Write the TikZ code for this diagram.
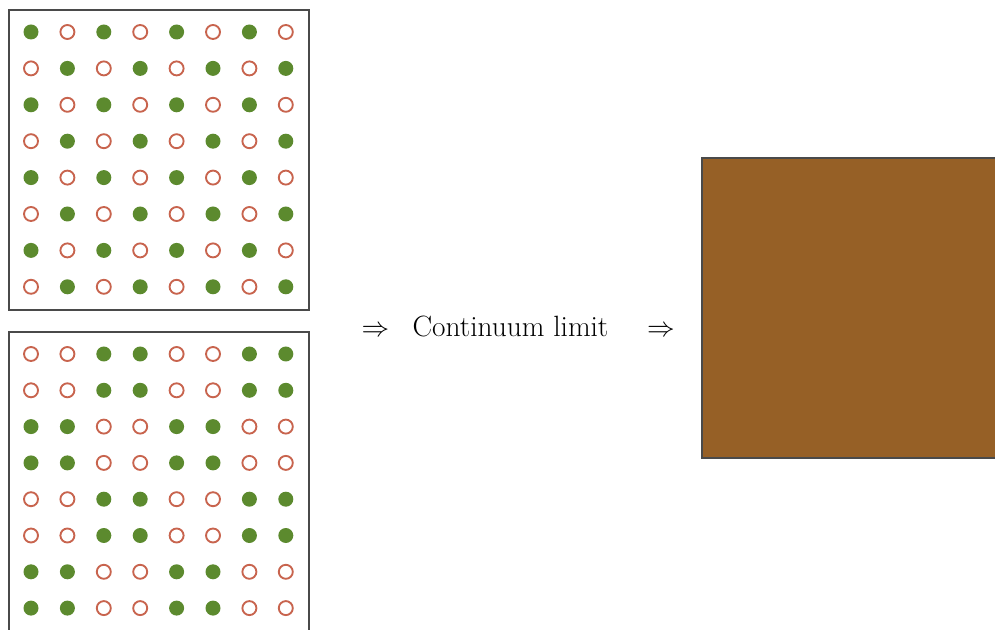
\documentclass[tikz,border=0pt]{standalone}
\definecolor{dotgreen}{HTML}{5C8A2E}
\definecolor{dotred}{HTML}{C8644E}
\definecolor{brown}{HTML}{966026}
\definecolor{frame}{HTML}{4A4A4A}
\begin{document}
\begin{tikzpicture}[x=0.75pt,y=-0.75pt,
  full/.style={fill=dotgreen,draw=none},
  empty/.style={draw=dotred,line width=1.4pt,fill=white},
  panel/.style={draw=frame,line width=1.2pt},
  lbl/.style={font=\fontsize{22}{26}\selectfont,inner sep=0pt},
  arr/.style={font=\fontsize{20.5}{24}\selectfont,inner sep=0pt}]
\useasboundingbox (0,0) rectangle (995,630);
\clip (0,0) rectangle (995,630);
% top panel: checkerboard
\draw[panel,fill=white] (9,10) rectangle (309,310);
\foreach \i in {0,...,7}{
  \foreach \j in {0,...,7}{
    \pgfmathtruncatemacro{\p}{mod(\i+\j,2)}
    \ifnum\p=0
      \fill[full] (31+36.4*\i,32+36.4*\j) circle (7.5);
    \else
      \draw[empty] (31+36.4*\i,32+36.4*\j) circle (7);
    \fi
  }
}
% bottom panel: 2x2 blocks
\draw[panel,fill=white] (9,332) rectangle (309,640);
\foreach \i in {0,...,7}{
  \foreach \j in {0,...,7}{
    \pgfmathtruncatemacro{\p}{mod(int(\i/2)+int(\j/2),2)}
    \ifnum\p=1
      \fill[full] (31+36.4*\i,354+36.3*\j) circle (7.5);
    \else
      \draw[empty] (31+36.4*\i,354+36.3*\j) circle (7);
    \fi
  }
}
% text
\node[arr,anchor=base] (arrowA) at (375.5,337) {$\Rightarrow$};
\node[lbl,anchor=base] (limit) at (510.5,337) {Continuum limit};
\node[arr,anchor=base] (arrowB) at (661,337) {$\Rightarrow$};
% continuum
\draw[panel,fill=brown] (702,158) rectangle (1005,458);
\end{tikzpicture}
\end{document}
